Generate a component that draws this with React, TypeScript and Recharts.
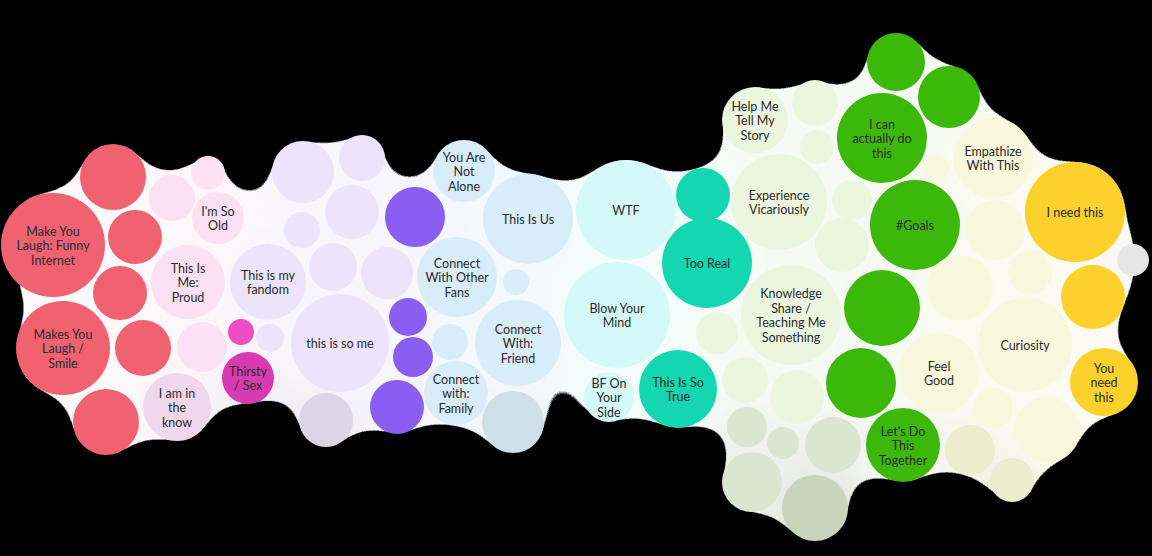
import React from 'react';
import { ScatterChart, Scatter, XAxis, YAxis, ZAxis } from 'recharts';

// bubble labels (line breaks as shown in the picture)
const labels = [
  '', 'Make You\nLaugh: Funny\nInternet', '', '', 'Makes You\nLaugh /\nSmile', '', '',
  '', '', "I'm So\nOld", 'This Is\nMe:\nProud', '', 'I am in\nthe\nknow', '', 'Thirsty\n/ Sex',
  '', '', '', '', 'This is my\nfandom', '', '', 'this is so me', '', '',
  '', '', '', '',
  'You Are\nNot\nAlone', 'This Is Us', 'Connect\nWith Other\nFans', '', 'Connect\nWith:\nFriend', '', 'Connect\nwith:\nFamily', '',
  'WTF', 'Blow Your\nMind', 'BF On\nYour\nSide', '', 'Too Real', 'This Is So\nTrue',
  'Help Me\nTell My\nStory', '', '', 'Experience\nVicariously', '', '', 'Knowledge\nShare /\nTeaching Me\nSomething', '', '', '',
  '', '', '', '', '',
  '', '', 'I can\nactually do\nthis', '#Goals', '', '', "Let's Do\nThis\nTogether",
  '', 'Empathize\nWith This', '', '', '', 'Feel\nGood', 'Curiosity', '', '', '', '',
  'I need this', '', 'You\nneed\nthis',
  '',
];

const xs = [
  113, 53, 135, 120, 63, 143, 106,
  172, 208, 218, 188, 202, 177, 241, 248,
  303, 362, 352, 302, 268, 333, 387, 340, 270, 326,
  415, 408, 413, 397,
  464, 528, 457, 516, 518, 450, 456, 513,
  626, 617, 609, 703, 707, 678,
  755, 815, 817, 779, 852, 842, 791, 717, 745, 797,
  747, 783, 833, 752, 815,
  896, 949, 882, 915, 882, 861, 903,
  936, 993, 995, 960, 1030, 939, 1025, 993, 1047, 970, 1012,
  1075, 1093, 1104,
  1133,
];

const ys = [
  177, 245, 237, 293, 348, 348, 422,
  198, 173, 218, 282, 347, 407, 332, 378,
  172, 158, 212, 230, 282, 267, 273, 343, 338, 420,
  217, 317, 357, 407,
  171, 219, 277, 282, 343, 342, 393, 422,
  210, 315, 397, 195, 263, 389,
  120, 103, 147, 202, 200, 245, 315, 333, 380, 397,
  427, 443, 445, 482, 508,
  62, 97, 138, 225, 308, 383, 445,
  168, 158, 230, 288, 272, 373, 345, 408, 430, 450, 480,
  212, 297, 382,
  260,
];

const radii = [
  33, 52, 27, 27, 47, 28, 33,
  23, 17, 26, 37, 25, 34, 13, 26,
  31, 23, 27, 18, 38, 24, 26, 49, 14, 27,
  30, 19, 20, 27,
  31, 45, 40, 13, 43, 18, 32, 31,
  50, 53, 25, 27, 45, 39,
  33, 23, 17, 48, 20, 27, 50, 21, 23, 27,
  20, 16, 28, 30, 33,
  29, 31, 45, 45, 38, 35, 37,
  13, 40, 30, 33, 22, 40, 47, 20, 33, 25, 22,
  50, 32, 34,
  16,
];

const tones = [
  'red', 'red', 'red', 'red', 'red', 'red', 'red',
  'pink', 'pink', 'pink', 'pink', 'pink', 'orchid', 'hotpink', 'magenta',
  'lavender', 'lavender', 'lavender', 'lavender', 'lavender', 'lavender', 'lavender', 'lavender', 'lavender', 'lilacgrey',
  'violet', 'violet', 'violet', 'violet',
  'sky', 'sky', 'sky', 'sky', 'sky', 'sky', 'sky', 'skygrey',
  'aqua', 'aqua', 'aqua', 'teal', 'teal', 'teal',
  'mint', 'mint', 'mint', 'mint', 'mint', 'mint', 'mint', 'mint', 'mint', 'mint',
  'sage', 'sage', 'sage', 'sage', 'sagedark',
  'green', 'green', 'green', 'green', 'green', 'green', 'green',
  'cream', 'cream', 'cream', 'cream', 'cream', 'cream', 'cream', 'cream', 'cream', 'creamdark', 'creamdark',
  'yellow', 'yellow', 'yellow',
  'grey',
];

const palette: Record<string, { fill: string; halo: string }> = {
  red: { fill: '#f0626f', halo: '#fdf9fa' },
  pink: { fill: '#fbe1f3', halo: '#fdf7fb' },
  orchid: { fill: '#efd8ee', halo: '#f9f2f8' },
  hotpink: { fill: '#ee4cc4', halo: '#fbf4fa' },
  magenta: { fill: '#d83bb0', halo: '#f8f0f7' },
  lavender: { fill: '#ebe4fa', halo: '#f8f6fd' },
  lilacgrey: { fill: '#dcd5e8', halo: '#f0edf5' },
  violet: { fill: '#8a5ef0', halo: '#f6f4fd' },
  sky: { fill: '#d8ecf9', halo: '#f3f9fd' },
  skygrey: { fill: '#cfdfe8', halo: '#eef4f7' },
  aqua: { fill: '#d5f9f9', halo: '#f3fdfd' },
  teal: { fill: '#14d6b1', halo: '#f2fcfa' },
  mint: { fill: '#ecf6df', halo: '#f7faf3' },
  sage: { fill: '#dbe6d0', halo: '#eff2ec' },
  sagedark: { fill: '#c9d4bd', halo: '#e4e8df' },
  green: { fill: '#3cb80b', halo: '#f5f9f1' },
  cream: { fill: '#f8f8dc', halo: '#fbfbf2' },
  creamdark: { fill: '#ececcf', halo: '#f3f3e8' },
  yellow: { fill: '#fcd12c', halo: '#fcfaf0' },
  grey: { fill: '#e6e6e6', halo: '#f5f5f5' },
};

const bubbles = labels.map((label, i) => ({
  label,
  x: xs[i],
  y: ys[i],
  z: radii[i] * radii[i],
  tone: tones[i],
}));

const radiusOf = (props: any) =>
  props.width ? props.width / 2 : Math.sqrt(Math.max(props.size || 0, 0) / Math.PI);

// background blob: halo circles get "closed" by the filter below
const HaloShape = (props: any) => {
  const { cx, cy, payload } = props;
  const r = radiusOf(props);
  return <circle cx={cx} cy={cy} r={r + 2} fill={palette[payload.tone].halo} />;
};

const BubbleShape = (props: any) => {
  const { cx, cy, payload } = props;
  const r = radiusOf(props);
  const lines = payload.label ? payload.label.split('\n') : [];
  const lh = 14.5;
  const top = cy - ((lines.length - 1) * lh) / 2;
  return (
    <g>
      <circle cx={cx} cy={cy} r={r} fill={palette[payload.tone].fill} />
      {lines.length > 0 && (
        <text
          x={cx}
          textAnchor="middle"
          dominantBaseline="central"
          fill="#2b2b2b"
          style={{ fontFamily: 'Lato, "Open Sans", sans-serif', fontSize: 12.5 }}
        >
          {lines.map((line: string, k: number) => (
            <tspan key={k} x={cx} y={top + k * lh}>
              {line}
            </tspan>
          ))}
        </text>
      )}
    </g>
  );
};

export default function App() {
  return (
    <div style={{ position: 'absolute', left: 0, top: 0, width: 1152, height: 556, background: '#000' }}>
      <style>{'.halo-layer { filter: url(#goo); }'}</style>
      <svg width="0" height="0" style={{ position: 'absolute' }}>
        <defs>
          {/* blur + low threshold grows, blur + high threshold shrinks back: fills the gaps */}
          <filter
            id="goo"
            filterUnits="userSpaceOnUse"
            x="0"
            y="0"
            width="1152"
            height="556"
            colorInterpolationFilters="sRGB"
          >
            <feGaussianBlur in="SourceGraphic" stdDeviation="12" />
            <feColorMatrix mode="matrix" values="1 0 0 0 0  0 1 0 0 0  0 0 1 0 0  0 0 0 25 -1" />
            <feGaussianBlur stdDeviation="12" />
            <feColorMatrix mode="matrix" values="1 0 0 0 0  0 1 0 0 0  0 0 1 0 0  0 0 0 70 -65.3" />
          </filter>
        </defs>
      </svg>
      <ScatterChart width={1152} height={556} margin={{ top: 0, right: 0, bottom: 0, left: 0 }}>
        <XAxis type="number" dataKey="x" domain={[0, 1152]} hide />
        <YAxis type="number" dataKey="y" domain={[0, 556]} reversed hide />
        <ZAxis type="number" dataKey="z" domain={[0, 3600]} range={[0, Math.PI * 3600]} />
        <Scatter data={bubbles} className="halo-layer" shape={HaloShape} isAnimationActive={false} />
        <Scatter data={bubbles} shape={BubbleShape} isAnimationActive={false} />
      </ScatterChart>
    </div>
  );
}
